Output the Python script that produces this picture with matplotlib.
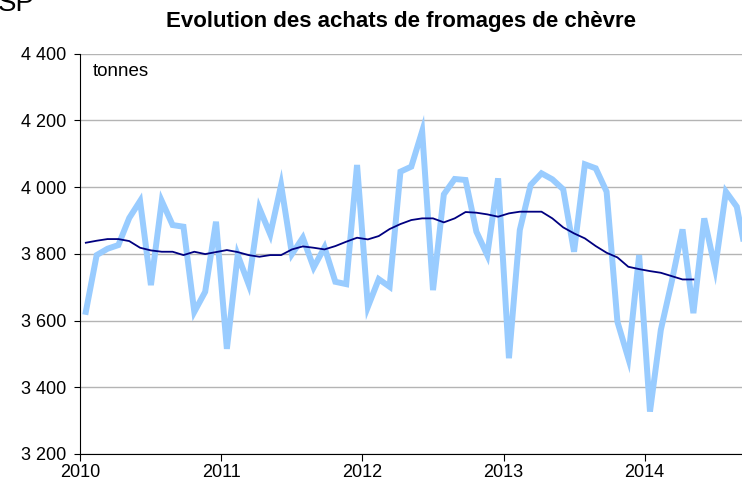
import matplotlib
matplotlib.use("Agg")
import matplotlib.pyplot as plt
import numpy as np
from matplotlib.ticker import FuncFormatter

plt.rcParams['font.family'] = ['Liberation Sans', 'DejaVu Sans']

# achats par periode de 4 semaines (13 periodes par an), tonnes
achats = [3626, 3796, 3815, 3826, 3907, 3958, 3706, 3958, 3886, 3881, 3626, 3686, 3896,
          3515, 3796, 3709, 3936, 3858, 4006, 3799, 3848, 3759, 3819, 3716, 3709, 4066,
          3641, 3724, 3701, 4046, 4061, 4167, 3691, 3978, 4024, 4021, 3866, 3796, 4026,
          3487, 3871, 4006, 4041, 4023, 3993, 3806, 4068, 4056, 3986, 3596, 3487, 3796,
          3327, 3572, 3716, 3873, 3622, 3906, 3756, 3986, 3941, 3775]
# moyenne mobile sur 13 periodes
moyenne = [3833, 3839, 3844, 3844, 3838, 3818, 3810, 3806, 3806, 3796, 3806, 3799, 3805,
           3811, 3805, 3796, 3791, 3796, 3796, 3813, 3822, 3818, 3813, 3823, 3836, 3848,
           3843, 3853, 3874, 3889, 3901, 3906, 3906, 3894, 3906, 3925, 3923, 3918, 3911,
           3921, 3926, 3926, 3926, 3906, 3879, 3861, 3846, 3823, 3803, 3789, 3761, 3754,
           3748, 3743, 3733, 3723, 3723]
annees = [2010, 2011, 2012, 2013, 2014]

x1 = 2010 + (np.arange(len(achats)) + 0.5) / 13
x2 = 2010 + (np.arange(len(moyenne)) + 0.5) / 13

fig = plt.figure(figsize=(7.42, 4.92), dpi=100)
ax = fig.add_axes([80.4/742, 1-454/492, 705.2/742, 400.5/492])

ax.plot(x1, achats, color='#99CCFF', lw=4.3, solid_joinstyle='miter', zorder=3)
ax.plot(x2, moyenne, color='#000080', lw=1.3, zorder=4)

ax.set_xlim(2010, 2015)
ax.set_ylim(3200, 4400)
ax.set_yticks(np.arange(3200, 4401, 200))
ax.yaxis.set_major_formatter(FuncFormatter(lambda v, p: f"{int(v):,}".replace(",", " ")))
ax.set_xticks(annees)
ax.set_xticklabels([str(a) for a in annees])
ax.grid(axis='y', color='#b4b4b4', lw=1)
ax.set_axisbelow(True)
for s in ['top', 'right']:
    ax.spines[s].set_visible(False)
ax.spines['left'].set_color('black')
ax.spines['bottom'].set_color('black')
ax.tick_params(axis='y', direction='out', length=4, labelsize=13, pad=6)
ax.tick_params(axis='x', direction='out', length=5, labelsize=13, pad=2)

fig.text(93/742, 1-72/492, 'tonnes', fontsize=13.5, va='center', ha='left')
fig.text(401/742, 1-21/492, 'Evolution des achats de fromages de chèvre',
         fontsize=16, fontweight='bold', ha='center', va='center')
fig.text(-0.003, 1-11/492, 'SP', fontsize=20, va='baseline', ha='left')

plt.savefig('out.png', dpi=100)
